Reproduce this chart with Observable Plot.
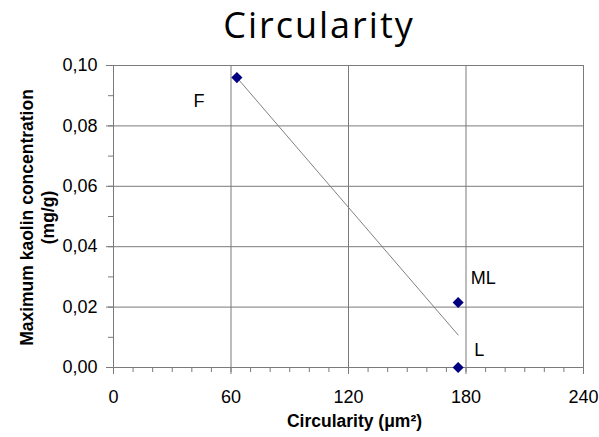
<!DOCTYPE html>
<html>
<head>
<meta charset="utf-8">
<script src="https://cdn.jsdelivr.net/npm/d3@7"></script>
<script src="https://cdn.jsdelivr.net/npm/@observablehq/plot@0.6"></script>
<style>
  html, body { margin: 0; padding: 0; background: #fff; }
  #chart { width: 599px; height: 437px; }
  #title {
    height: 56px;
    box-sizing: border-box;
    padding-top: 7px;
    padding-left: 39px;
    text-align: center;
    font-family: "Open Sans", sans-serif;
    font-size: 36px;
    letter-spacing: 2px;
    line-height: 1;
    color: #000;
  }
  svg { display: block; }
</style>
</head>
<body>
<div id="chart">
  <div id="title">Circularity</div>
</div>
<script>
// Samples: circularity (µm²) against maximum kaolin concentration (mg/g)
const samples = ["F", "ML", "L"];
const circularity = [63, 176, 176];
const kaolin = [0.096, 0.0215, 0.0];

// Axis ticks
const xTicks = [0, 60, 120, 180, 240];
const yTicks = [0, 0.02, 0.04, 0.06, 0.08, 0.10];
const xMinorTicks = d3.range(0, 241, 10);
const yMinorTicks = d3.range(0, 11).map((i) => i / 100);

const xTitle = "Circularity (μm²)";
const yTitle = "Maximum kaolin concentration\n(mg/g)";

const data = samples.map((sample, i) => ({sample, x: circularity[i], y: kaolin[i]}));
const bySample = (s) => data.filter((d) => d.sample === s);

const gridColor = "#7a7a7a";
const decimalComma = (d) => d.toFixed(2).replace(".", ",");

const labelStyle = {x: "x", y: "y", text: "sample", fontSize: 18, fill: "#000"};

const chart = Plot.plot({
  width: 599,
  height: 381,
  marginTop: 9,
  marginBottom: 70,
  marginLeft: 113,
  marginRight: 16,
  style: {fontFamily: "'Liberation Sans', Arial, sans-serif", fontSize: "18px", color: "#000", background: "#fff"},
  x: {domain: [0, 240]},
  y: {domain: [0, 0.1]},
  marks: [
    Plot.gridX(xTicks, {stroke: gridColor, strokeOpacity: 1}),
    Plot.gridY(yTicks, {stroke: gridColor, strokeOpacity: 1}),
    Plot.axisX(xMinorTicks, {tickSize: 5, tickFormat: () => "", stroke: gridColor, label: null}),
    Plot.axisY(yMinorTicks, {tickSize: 5, tickFormat: () => "", stroke: gridColor, label: null}),
    Plot.axisX(xTicks, {tickSize: 7, tickPadding: 16, stroke: gridColor, fill: "#000", fontSize: 18, label: null}),
    Plot.axisY(yTicks, {tickSize: 7, tickPadding: 9, tickFormat: decimalComma, stroke: gridColor, fill: "#000", fontSize: 18, label: null}),
    Plot.ruleX([0], {stroke: gridColor}),
    Plot.ruleY([0], {stroke: gridColor}),
    // least-squares trend through the three samples
    Plot.linearRegressionY(data, {x: "x", y: "y", ci: 0, stroke: "#808080", strokeWidth: 1}),
    Plot.dot(data, {x: "x", y: "y", symbol: "diamond2", r: 5, fill: "#000080", stroke: "none"}),
    Plot.text(bySample("F"), {...labelStyle, dx: -38, dy: 24}),
    Plot.text(bySample("ML"), {...labelStyle, dx: 25, dy: -24}),
    Plot.text(bySample("L"), {...labelStyle, dx: 21, dy: -17}),
    Plot.text([xTitle], {frameAnchor: "bottom", dx: 6, dy: 59, fontSize: 17.5, fontWeight: "bold", fill: "#000"}),
    Plot.text([yTitle], {frameAnchor: "left", textAnchor: "middle", rotate: -90, dx: -77, dy: 1, lineHeight: 1.25, fontSize: 17.5, fontWeight: "bold", fill: "#000"})
  ]
});

document.getElementById("chart").appendChild(chart);
</script>
</body>
</html>
